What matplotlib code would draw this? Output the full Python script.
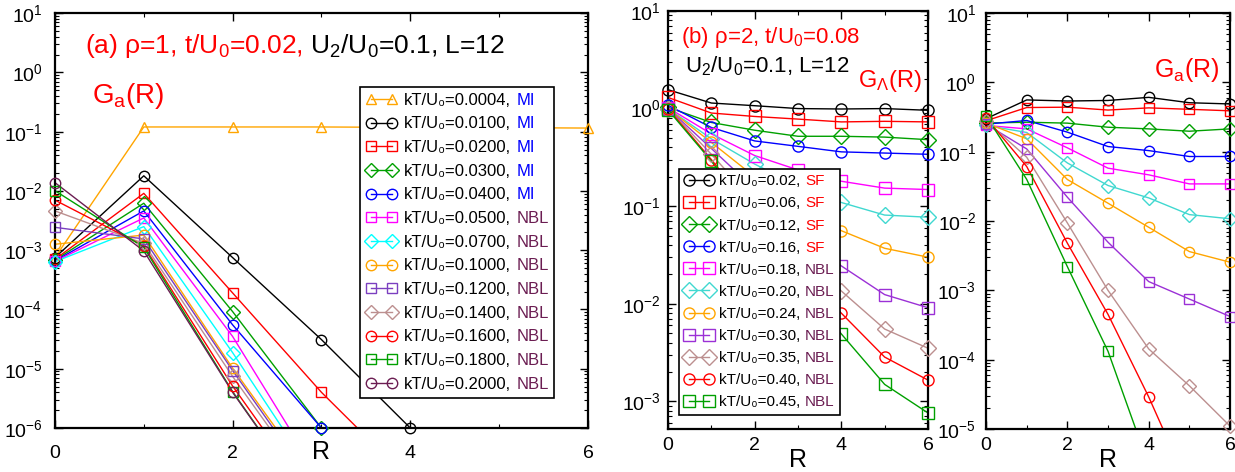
import numpy as np
import matplotlib
matplotlib.use('Agg')
import matplotlib.pyplot as plt
from matplotlib.lines import Line2D
from matplotlib.ticker import LogLocator, NullFormatter, MultipleLocator

plt.rcParams['font.family'] = ['Liberation Sans', 'DejaVu Sans']
plt.rcParams['mathtext.fontset'] = 'custom'
plt.rcParams['mathtext.rm'] = 'Liberation Sans'
plt.rcParams['mathtext.it'] = 'Liberation Sans:italic'
plt.rcParams['mathtext.bf'] = 'Liberation Sans:bold'
plt.rcParams['mathtext.default'] = 'regular'
plt.rcParams['axes.unicode_minus'] = False

# distance R
R = [0, 1, 2, 3, 4, 5, 6]

# (a) rho=1, t/U0=0.02 : G_a(R)
kT_a = ['0.0004', '0.0100', '0.0200', '0.0300', '0.0400', '0.0500', '0.0700',
        '0.1000', '0.1200', '0.1400', '0.1600', '0.1800', '0.2000']
phase_a = ['MI', 'MI', 'MI', 'MI', 'MI', 'NBL', 'NBL',
           'NBL', 'NBL', 'NBL', 'NBL', 'NBL', 'NBL']
Ga_a = [
    [7.5e-4, 0.12, 0.12, 0.12, 0.118, 0.117, 0.115],
    [7.5e-4, 1.8e-2, 7.5e-4, 3.1e-5, 1.0e-6, 3e-8, 1e-9],
    [7.0e-4, 9.1e-3, 1.9e-4, 4.0e-6, 1.3e-7, 4e-9, 1e-10],
    [6.8e-4, 6.2e-3, 9.2e-5, 1.0e-6, 1.5e-8, 2e-10, 1e-11],
    [6.6e-4, 4.6e-3, 5.5e-5, 1.0e-6, 2e-8, 3e-10, 1e-11],
    [6.5e-4, 3.5e-3, 3.5e-5, 1.3e-7, 5e-10, 1e-11, 1e-12],
    [6.4e-4, 2.5e-3, 1.87e-5, 1.0e-7, 5e-10, 1e-11, 1e-12],
    [1.26e-3, 1.8e-3, 1.02e-5, 8.5e-8, 5e-10, 1e-11, 1e-12],
    [2.43e-3, 1.55e-3, 9.3e-6, 7e-8, 5e-10, 1e-11, 1e-12],
    [4.6e-3, 1.3e-3, 7.4e-6, 6e-8, 5e-10, 1e-11, 1e-12],
    [7.0e-3, 1.18e-3, 5.1e-6, 4e-8, 3e-10, 1e-11, 1e-12],
    [1.01e-2, 1.12e-3, 4.1e-6, 3e-8, 3e-10, 1e-11, 1e-12],
    [1.38e-2, 9.7e-4, 4.0e-6, 3e-8, 3e-10, 1e-11, 1e-12],
]

# (b) rho=2, t/U0=0.08 : G_Lambda(R) and G_a(R)
kT_b = ['0.02', '0.06', '0.12', '0.16', '0.18', '0.20', '0.24', '0.30',
        '0.35', '0.40', '0.45']
phase_b = ['SF', 'SF', 'SF', 'SF', 'NBL', 'NBL', 'NBL', 'NBL', 'NBL', 'NBL', 'NBL']
GL_b = [
    [1.56, 1.14, 1.07, 1.0, 0.99, 1.0, 0.96],
    [1.30, 0.90, 0.83, 0.78, 0.73, 0.74, 0.73],
    [1.03, 0.72, 0.60, 0.52, 0.52, 0.51, 0.48],
    [1.08, 0.64, 0.466, 0.41, 0.36, 0.35, 0.34],
    [1.02, 0.55, 0.33, 0.235, 0.18, 0.153, 0.148],
    [1.0, 0.49, 0.27, 0.16, 0.109, 0.081, 0.077],
    [1.0, 0.45, 0.20, 0.10, 0.056, 0.037, 0.030],
    [1.0, 0.39, 0.15, 0.055, 0.0244, 0.0124, 0.0091],
    [1.0, 0.34, 0.11, 0.035, 0.0135, 0.0055, 0.0035],
    [1.0, 0.30, 0.085, 0.024, 0.008, 0.00284, 0.00165],
    [0.97, 0.29, 0.07, 0.018, 0.0049, 0.00149, 0.00076],
]
Ga_b = [
    [0.30, 0.56, 0.54, 0.55, 0.61, 0.51, 0.49],
    [0.28, 0.435, 0.44, 0.40, 0.43, 0.41, 0.39],
    [0.26, 0.267, 0.259, 0.226, 0.214, 0.198, 0.214],
    [0.25, 0.283, 0.192, 0.119, 0.104, 0.0855, 0.0855],
    [0.24, 0.214, 0.114, 0.058, 0.0465, 0.0344, 0.0344],
    [0.24, 0.19, 0.069, 0.0326, 0.0216, 0.0124, 0.0108],
    [0.26, 0.154, 0.0398, 0.0181, 0.00814, 0.00363, 0.00255],
    [0.25, 0.110, 0.0221, 0.00495, 0.00134, 7.5e-4, 4.2e-4],
    [0.28, 0.0835, 0.0094, 1.0e-3, 1.43e-4, 4.2e-5, 1.1e-5],
    [0.31, 0.0613, 0.0048, 4.5e-4, 2.9e-5, 1.4e-6, 1e-7],
    [0.33, 0.040, 0.0022, 1.32e-4, 3e-6, 8e-8, 2e-9],
]

# styles
GREEN = '#00a000'
PURPLE_A = '#7b3fc0'
PURPLE_B = '#9b30d6'
TAN = '#bc8f8f'
MAROON = '#6b1d52'
colors_a = ['orange', 'black', 'red', GREEN, 'blue', 'magenta', 'cyan',
            'orange', PURPLE_A, TAN, 'red', GREEN, MAROON]
markers_a = ['^', 'o', 's', 'D', 'o', 's', 'D', 'o', 's', 'D', 'o', 's', 'o']
colors_b = ['black', 'red', GREEN, 'blue', 'magenta', '#40d8d0', 'orange',
            PURPLE_B, TAN, 'red', GREEN]
markers_b = ['o', 's', 'D', 'o', 's', 'D', 'o', 's', 'D', 'o', 's']
phase_color = {'MI': 'blue', 'NBL': MAROON, 'SF': 'red'}


def style_axes(ax, ylim, xpad, ypad, labely):
    ax.set_yscale('log')
    ax.set_xlim(0, 6)
    ax.set_ylim(*ylim)
    ax.xaxis.set_major_locator(MultipleLocator(2))
    ax.xaxis.set_minor_locator(MultipleLocator(1))
    ax.yaxis.set_major_locator(LogLocator(base=10, numticks=20))
    ax.yaxis.set_minor_locator(LogLocator(base=10, subs=np.arange(2, 10), numticks=60))
    ax.yaxis.set_minor_formatter(NullFormatter())
    ax.tick_params(which='both', direction='in', top=True, right=True, labelsize=14)
    ax.tick_params(which='major', length=6, width=1.0)
    ax.tick_params(which='minor', length=3, width=0.8)
    ax.tick_params(axis='x', pad=xpad)
    ax.tick_params(axis='y', pad=ypad)
    for s in ax.spines.values():
        s.set_linewidth(1.6)
    ax.set_xlabel('R', fontsize=18)
    ax.xaxis.set_label_coords(0.5, labely)


def draw_series(ax, y, color, marker, ms, ymin):
    y = np.asarray(y, dtype=float)
    ax.plot(R, y, color=color, lw=1.0, zorder=2)
    ym = np.where(y >= ymin * 0.999, y, np.nan)
    ax.plot(R, ym, ls='none', marker=marker, ms=ms, mfc='none', mec=color,
            mew=1.0, clip_on=False, zorder=3)
    return Line2D([], [], color=color, lw=1.0, marker=marker, ms=ms,
                  mfc='none', mec=color, mew=1.0)


def two_tone(ax, x, y, parts, size):
    t = ax.text(x, y, parts[0][0], color=parts[0][1], fontsize=size,
                transform=ax.transAxes)
    for s, c in parts[1:]:
        t = ax.annotate(s, xy=(1, 0), xycoords=t, va='bottom', color=c, fontsize=size)


def phase_legend(ax, handles, kts, phases, anchor, fs, ls):
    hl, htp = 1.9, 0.4
    blanks = [Line2D([], [], ls='none') for _ in handles]
    pre = ['kT/U\u2080=%s,' % k for k in kts]
    leg = ax.legend(handles + blanks, pre + list(phases), ncols=2, loc='upper left',
                    bbox_to_anchor=anchor, fontsize=fs, numpoints=2,
                    handlelength=hl, handletextpad=htp,
                    columnspacing=-(hl + htp) + 0.3, labelspacing=ls,
                    borderaxespad=0, borderpad=0.35, fancybox=False,
                    framealpha=1, edgecolor='black')
    leg.get_frame().set_linewidth(1.2)
    for t, p in zip(leg.get_texts()[len(handles):], phases):
        t.set_color(phase_color[p])
    leg.set_zorder(10)


fig = plt.figure(figsize=(12.35, 4.72), dpi=100)
ax1 = fig.add_axes([0.0445, 0.0932, 0.4316, 0.879])
ax2 = fig.add_axes([0.5409, 0.0911, 0.2105, 0.8856])
ax3 = fig.add_axes([0.7984, 0.0911, 0.1976, 0.881])

# panel (a)
ylim1 = (1e-6, 10)
style_axes(ax1, ylim1, 12, 9, -0.03)
h1 = [draw_series(ax1, y, c, m, 7.5, ylim1[0])
      for y, c, m in zip(Ga_a, colors_a, markers_a)]
phase_legend(ax1, h1, kT_a, phase_a, (0.572, 0.822), 12, 0.52)
two_tone(ax1, 0.056, 0.904, [('(a) ρ=1, t/U$_0$=0.02,', 'red'),
                             (' U$_2$/U$_0$=0.1, L=12', 'black')], 19)
ax1.text(0.07, 0.783, 'G$_a$(R)', color='red', fontsize=20, transform=ax1.transAxes)

# panel (b) left: G_Lambda
ylim2 = (5.2e-4, 10)
style_axes(ax2, ylim2, 6, 5, -0.045)
h2 = [draw_series(ax2, y, c, m, 8, ylim2[0])
      for y, c, m in zip(GL_b, colors_b, markers_b)]
phase_legend(ax2, h2, kT_b, phase_b, (0.042, 0.622), 11, 0.53)
ax2.text(0.05, 0.923, '(b) ρ=2, t/U$_0$=0.08', color='red', fontsize=16,
         transform=ax2.transAxes)
ax2.text(0.065, 0.854, 'U$_2$/U$_0$=0.1, L=12', color='black', fontsize=16,
         transform=ax2.transAxes)
ax2.text(0.731, 0.818, 'G$_Λ$(R)', color='red', fontsize=17, transform=ax2.transAxes)

# panel (b) right: G_a
ylim3 = (1e-5, 10)
style_axes(ax3, ylim3, 6, 7, -0.045)
for y, c, m in zip(Ga_b, colors_b, markers_b):
    draw_series(ax3, y, c, m, 7.5, ylim3[0])
ax3.text(0.689, 0.846, 'G$_a$(R)', color='red', fontsize=18, transform=ax3.transAxes)

fig.savefig('out.png', dpi=100)
